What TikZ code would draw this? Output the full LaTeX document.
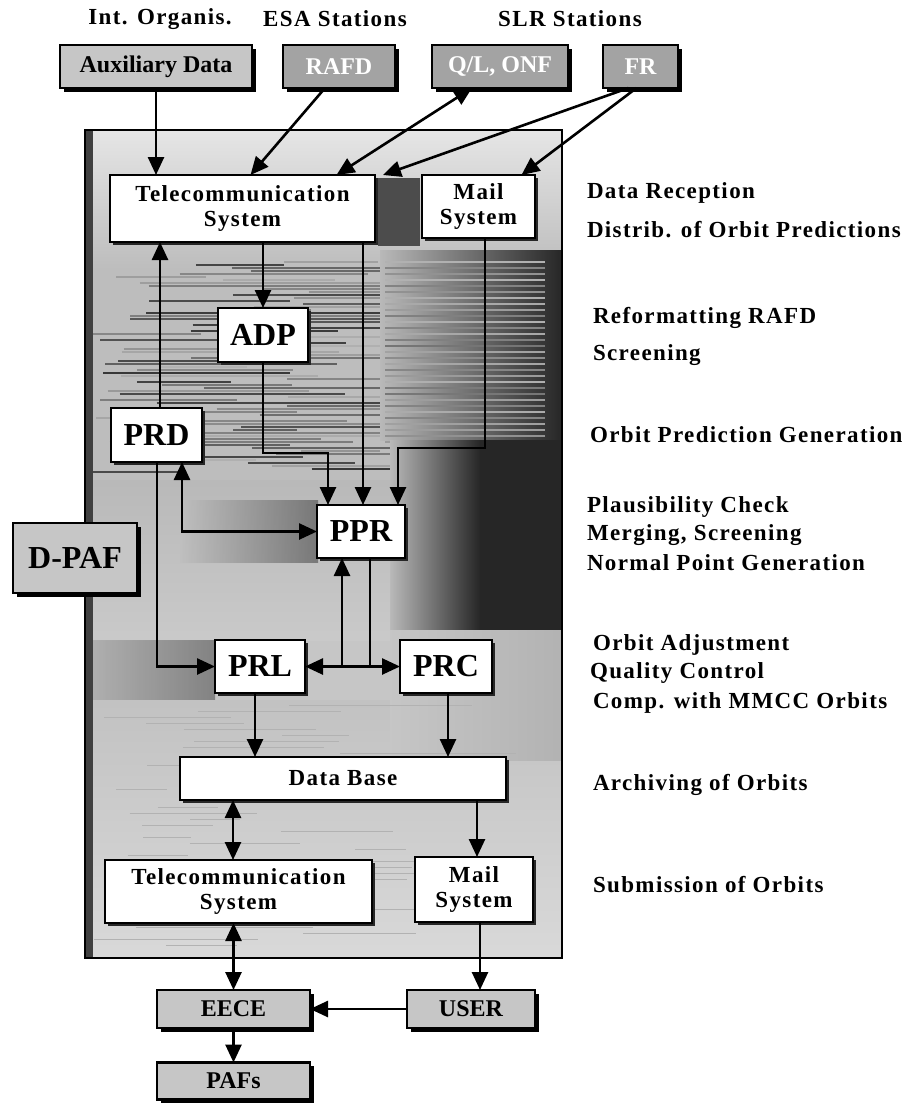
\documentclass[tikz,border=0pt]{standalone}
\usepackage{fontspec}
\setmainfont{Liberation Serif}
\newfontfamily\trkfont{Liberation Serif}[LetterSpace=6]
\usetikzlibrary{arrows.meta,calc,shadows}
\begin{document}
\begin{tikzpicture}[x=1pt,y=-1pt,
 every node/.style={inner sep=0pt, outer sep=0pt},
 conn/.style={line width=2.6pt},
 arr/.style={conn, -{Triangle[length=18pt,width=16pt]}},
 arrr/.style={conn, {Triangle[length=18pt,width=16pt]}-{Triangle[length=18pt,width=16pt]}},
 tf/.style={font=\trkfont\bfseries\fontsize{23}{25}\selectfont},
 wbox/.style={tf, draw=black, line width=1.6pt, fill=white, align=center,
   drop shadow={shadow xshift=2.5pt, shadow yshift=-2.5pt, fill=black!85, opacity=1}},
 bigbox/.style={wbox, font=\bfseries\fontsize{32}{32}\selectfont},
 gbox/.style={draw=black, line width=2.4pt, fill=gray!45, align=center,
   font=\bfseries\fontsize{24}{24}\selectfont,
   drop shadow={shadow xshift=3.5pt, shadow yshift=-3.5pt, fill=black, opacity=1}},
 srcbox/.style={gbox, fill=gray!72, text=white},
 rlab/.style={tf, anchor=west},
 hlab/.style={tf, anchor=center}]

\useasboundingbox (0,0) rectangle (914,1103);

% ---------- panel background ----------
\begin{scope}
\clip (85,130) rectangle (562,958);
\fill[gray!45] (85,130) rectangle (562,958);
\shade[top color=gray!20, bottom color=gray!52] (85,130) rectangle (562,270);
\fill[gray!52] (85,270) rectangle (562,480);
\pgfmathsetseed{7}
\foreach \i in {0,...,70} {
  \pgfmathsetmacro\yy{262+3*\i}
  \pgfmathsetmacro\xa{92+rnd*220}
  \pgfmathsetmacro\xb{\xa+60+rnd*250}
  \pgfmathtruncatemacro\gg{30+rnd*50}
  \draw[black!\gg, line width=1.3pt] (\xa,\yy) -- (\xb,\yy);
}
\shade[left color=gray!55, right color=black!85] (380,250) rectangle (562,440);
\foreach \i in {0,...,30} {
  \pgfmathsetmacro\yy{262+6*\i}
  \pgfmathtruncatemacro\gg{10+rnd*40}
  \draw[white!\gg!black!60, line width=1.5pt] (385,\yy) -- (545,\yy);
}
\shade[left color=gray!55, right color=black!85] (390,440) rectangle (480,630);
\fill[black!85] (480,440) rectangle (562,630);
\fill[black!70] (378,178) rectangle (420,246);
\shade[top color=gray!55, bottom color=gray!42] (85,480) rectangle (390,640);
\shade[left color=gray!50, right color=black!60, opacity=0.8] (180,500) rectangle (318,562);
\shade[left color=gray!70, right color=black!60, opacity=0.7] (92,640) rectangle (215,700);
\shade[top color=gray!48, bottom color=gray!30] (85,700) rectangle (562,958);
\shade[left color=gray!45, right color=gray!60] (390,630) rectangle (562,760);
\pgfmathsetseed{11}
\foreach \i in {0,...,40} {
  \pgfmathsetmacro\yy{705+6*\i}
  \pgfmathsetmacro\xa{92+rnd*300}
  \pgfmathsetmacro\xb{\xa+40+rnd*150}
  \draw[gray!60, line width=0.8pt] (\xa,\yy) -- (\xb,\yy);
}
\fill[black!75] (85,130) rectangle (93,958);
\end{scope}
\draw[line width=1.8pt] (85,130) rectangle (562,958);

% ---------- headers ----------
\node[hlab] (h1) at (160,19) {Int. Organis.};
\node[hlab] (h2) at (335,19) {ESA Stations};
\node[hlab] (h3) at (570,19) {SLR Stations};

% ---------- source boxes ----------
\node[srcbox, text=black, fill=gray!45, minimum width=192pt, minimum height=43pt] (aux) at (156,66.5) {Auxiliary Data};
\node[srcbox, minimum width=112pt, minimum height=43pt] (rafd) at (339,66.5) {RAFD};
\node[srcbox, minimum width=136pt, minimum height=43pt] (ql) at (500,66.5) {Q/L, ONF};
\node[srcbox, minimum width=75pt, minimum height=43pt] (fr) at (640.5,66.5) {FR};

% ---------- inner boxes ----------
\node[wbox, minimum width=265pt, minimum height=67pt] (tele1) at (242.5,208.5) {Telecommunication\\System};
\node[wbox, minimum width=113pt, minimum height=63pt] (mail1) at (478.5,206.5) {Mail\\System};
\node[bigbox, minimum width=90pt, minimum height=54pt] (adp) at (263,335) {ADP};
\node[bigbox, minimum width=91pt, minimum height=54pt] (prd) at (156.5,435) {PRD};
\node[bigbox, minimum width=88pt, minimum height=53pt] (ppr) at (361,531.5) {PPR};
\node[gbox, font=\bfseries\fontsize{32}{32}\selectfont, minimum width=124pt, minimum height=70pt] (dpaf) at (75,558) {D-PAF};
\node[bigbox, minimum width=90pt, minimum height=53pt] (prl) at (260,666.5) {PRL};
\node[bigbox, minimum width=92pt, minimum height=53pt] (prc) at (446,666.5) {PRC};
\node[wbox, minimum width=326pt, minimum height=43pt] (db) at (343,778.5) {Data Base};
\node[wbox, minimum width=267pt, minimum height=63pt] (tele2) at (238.5,891.5) {Telecommunication\\System};
\node[wbox, minimum width=118pt, minimum height=65pt] (mail2) at (474,889.5) {Mail\\System};
\node[gbox, minimum width=153pt, minimum height=38pt] (eece) at (233.5,1009) {EECE};
\node[gbox, minimum width=128pt, minimum height=38pt] (user) at (471,1009) {USER};
\node[gbox, minimum width=153pt, minimum height=37pt] (pafs) at (233.5,1081) {PAFs};

% ---------- right labels ----------
\node[rlab] (r1) at (587,193) {Data Reception};
\node[rlab] (r2) at (587,230) {Distrib. of Orbit Predictions};
\node[rlab] (r3) at (593,318) {Reformatting RAFD};
\node[rlab] (r4) at (593,355) {Screening};
\node[rlab] (r5) at (590,435) {Orbit Prediction Generation};
\node[rlab] (r6) at (587,507) {Plausibility Check};
\node[rlab] (r7) at (587,535) {Merging, Screening};
\node[rlab] (r8) at (587,563) {Normal Point Generation};
\node[rlab] (r9) at (593,645) {Orbit Adjustment};
\node[rlab] (r10) at (590,673) {Quality Control};
\node[rlab] (r11) at (593,703) {Comp. with MMCC Orbits};
\node[rlab] (r12) at (593,785) {Archiving of Orbits};
\node[rlab] (r13) at (593,885) {Submission of Orbits};

% ---------- helper coordinates ----------
\coordinate (rafdS) at ([xshift=-14pt]rafd.south);
\coordinate (t1a) at ([xshift=8pt]tele1.north);
\coordinate (qlS) at ([xshift=-28pt]ql.south);
\coordinate (t1b) at ([xshift=94pt]tele1.north);
\coordinate (frS1) at ([xshift=-12pt]fr.south);
\coordinate (frS2) at ([xshift=-4pt]fr.south);
\coordinate (t1c) at ([xshift=8pt]tele1.north east);
\coordinate (m1a) at ([xshift=43pt]mail1.north);
\coordinate (prdN) at ([xshift=3.5pt]prd.north);
\coordinate (pprN) at ([xshift=2pt]ppr.north);
\coordinate (m1S) at ([xshift=6.5pt]mail1.south);
\coordinate (prdS1) at ([xshift=25.5pt]prd.south);
\coordinate (prdS2) at ([xshift=0.5pt]prd.south);
\coordinate (pprS) at ([xshift=9pt]ppr.south);
\coordinate (prlS) at ([xshift=-5pt]prl.south);
\coordinate (prcS) at ([xshift=2pt]prc.south);
\coordinate (t2N) at ([xshift=-5.5pt]tele2.north);
\coordinate (m2N) at ([xshift=3pt]mail2.north);
\coordinate (m2S) at ([xshift=6pt]mail2.south);
\coordinate (c1) at (328,453);
\coordinate (c2) at (398,448);
\coordinate (j1) at (342,666.5);

% ---------- connectors ----------
\draw[arr] (aux.south) -- (aux.south |- tele1.north);
\draw[arr] (rafdS) -- (t1a);
\draw[arrr] (qlS) -- (t1b);
\draw[arr] (frS1) -- (t1c);
\draw[arr] (frS2) -- (m1a);
\draw[arr] (adp.north |- tele1.south) -- (adp.north);
\draw[arr] (prdN) -- (prdN |- tele1.south);
\draw[arr] (adp.south) |- (c1) -- (c1 |- ppr.north);
\draw[arr] (pprN |- tele1.south) -- (pprN);
\draw[arr] (m1S) |- (c2) -- (c2 |- ppr.north);
\draw[arrr] (prdS1) |- (ppr.west);
\draw[arr] (prdS2) |- (prl.west);
\draw[arrr] (prl.east) -- (prc.west);
\draw[arr] (j1) -- (j1 |- ppr.south);
\draw[conn] (pprS) -- (pprS |- prl.east);
\draw[arr] (prlS) -- (prlS |- db.north);
\draw[arr] (prcS) -- (prcS |- db.north);
\draw[arrr] (t2N |- db.south) -- (t2N);
\draw[arr] (m2N |- db.south) -- (m2N);
\draw[arrr] (eece.north |- tele2.south) -- (eece.north);
\draw[arr] (m2S) -- (m2S |- user.north);
\draw[arr] (user.west) -- (eece.east);
\draw[arr] (eece.south) -- (pafs.north);
\end{tikzpicture}
\end{document}
